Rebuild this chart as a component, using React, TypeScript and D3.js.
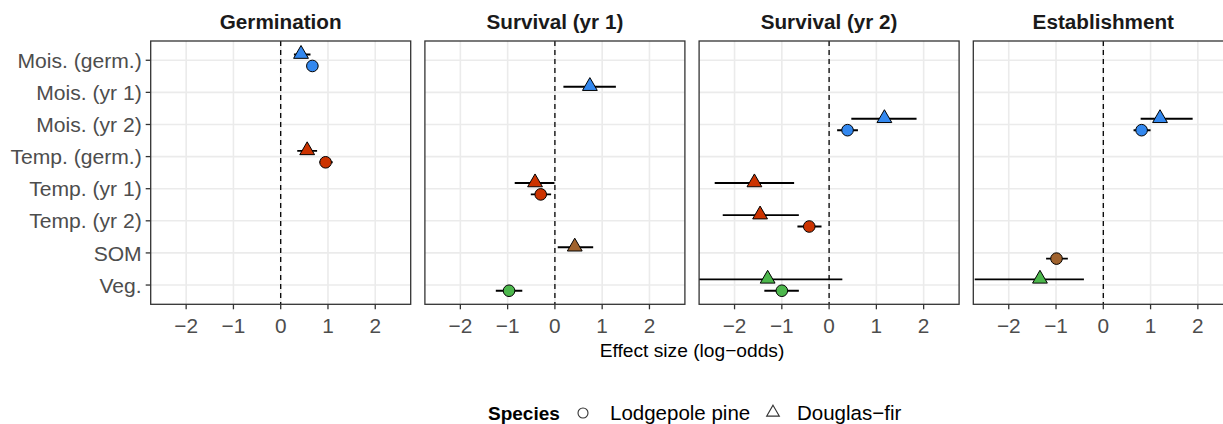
import React from "react";
import * as d3 from "d3";

const categories = [
  "Mois. (germ.)",
  "Mois. (yr 1)",
  "Mois. (yr 2)",
  "Temp. (germ.)",
  "Temp. (yr 1)",
  "Temp. (yr 2)",
  "SOM",
  "Veg.",
];
const panels = ["Germination", "Survival (yr 1)", "Survival (yr 2)", "Establishment"];
const xTicks = [-2, -1, 0, 1, 2];
const speciesLabels = ["Lodgepole pine", "Douglas\u2212fir"];
const axisTitle = "Effect size (log\u2212odds)";

// [panel, category, estimate, lower, upper]
const lodgepole: [string, string, number, number, number][] = [
  ["Germination", "Mois. (germ.)", 0.67, 0.6, 0.75],
  ["Germination", "Temp. (germ.)", 0.95, 0.82, 1.1],
  ["Survival (yr 1)", "Temp. (yr 1)", -0.3, -0.51, -0.08],
  ["Survival (yr 1)", "Veg.", -0.97, -1.25, -0.69],
  ["Survival (yr 2)", "Mois. (yr 2)", 0.39, 0.17, 0.61],
  ["Survival (yr 2)", "Temp. (yr 2)", -0.42, -0.67, -0.16],
  ["Survival (yr 2)", "Veg.", -1.0, -1.37, -0.64],
  ["Establishment", "Mois. (yr 2)", 0.81, 0.64, 1.0],
  ["Establishment", "SOM", -0.99, -1.21, -0.75],
];
const douglasFir: [string, string, number, number, number][] = [
  ["Germination", "Mois. (germ.)", 0.43, 0.28, 0.63],
  ["Germination", "Temp. (germ.)", 0.56, 0.35, 0.77],
  ["Survival (yr 1)", "Mois. (yr 1)", 0.74, 0.18, 1.29],
  ["Survival (yr 1)", "Temp. (yr 1)", -0.42, -0.85, -0.01],
  ["Survival (yr 1)", "SOM", 0.42, 0.06, 0.81],
  ["Survival (yr 2)", "Mois. (yr 2)", 1.17, 0.47, 1.85],
  ["Survival (yr 2)", "Temp. (yr 1)", -1.58, -2.42, -0.74],
  ["Survival (yr 2)", "Temp. (yr 2)", -1.46, -2.25, -0.64],
  ["Survival (yr 2)", "Veg.", -1.3, -3.2, 0.28],
  ["Establishment", "Mois. (yr 2)", 1.2, 0.79, 1.89],
  ["Establishment", "Veg.", -1.34, -2.72, -0.41],
];

const groupColor = (cat: string) =>
  cat.startsWith("Mois") ? "#3388ef" : cat.startsWith("Temp") ? "#cc3300" : cat === "SOM" ? "#a0622d" : "#4cb74c";

const W = 1223;
const H = 424;
const panelLeft = 150.7;
const panelW = 260;
const panelStep = 274.2;
const panelTop = 41;
const panelBottom = 304.3;
const FONT = "'Liberation Sans', Arial, Helvetica, sans-serif";

export default function App() {
  const x = d3.scaleLinear().domain([-2.75, 2.75]).range([0, panelW]);
  const y = d3
    .scalePoint<string>()
    .domain(categories)
    .range([panelTop, panelBottom])
    .padding(0.6);
  const dodge = 5.7;

  const tri = d3.symbol().type(d3.symbolTriangle).size(95);
  const triLegend = d3.symbol().type(d3.symbolTriangle).size(70);

  return (
    <svg
      width={W}
      height={H}
      style={{ position: "absolute", left: 0, top: 0, fontFamily: FONT }}
    >
      <rect width={W} height={H} fill="#fff" />
      {categories.map((c) => (
        <g key={c}>
          <line x1={panelLeft - 5} x2={panelLeft} y1={y(c)} y2={y(c)} stroke="#333" strokeWidth={1.3} />
          <text
            x={panelLeft - 9}
            y={y(c)}
            dy="0.36em"
            textAnchor="end"
            fontSize={21.1}
            fill="#4d4d4d"
          >
            {c}
          </text>
        </g>
      ))}
      {panels.map((p, i) => {
        const ox = panelLeft + i * panelStep;
        const clipId = `clip${i}`;
        const pine = lodgepole.filter((d) => d[0] === p);
        const fir = douglasFir.filter((d) => d[0] === p);
        return (
          <g key={p} transform={`translate(${ox},0)`}>
            <defs>
              <clipPath id={clipId}>
                <rect x={0} y={panelTop} width={panelW} height={panelBottom - panelTop} />
              </clipPath>
            </defs>
            <text
              x={panelW / 2}
              y={29}
              textAnchor="middle"
              fontSize={20.7}
              fontWeight="bold"
              fill="#1a1a1a"
            >
              {p}
            </text>
            <g clipPath={`url(#${clipId})`}>
              {xTicks.map((t) => (
                <line key={t} x1={x(t)} x2={x(t)} y1={panelTop} y2={panelBottom} stroke="#ebebeb" strokeWidth={1.6} />
              ))}
              {categories.map((c) => (
                <line key={c} x1={0} x2={panelW} y1={y(c)} y2={y(c)} stroke="#ebebeb" strokeWidth={1.6} />
              ))}
              <line
                x1={x(0)}
                x2={x(0)}
                y1={panelTop}
                y2={panelBottom}
                stroke="#000"
                strokeWidth={1.3}
                strokeDasharray="5,4"
              />
              {fir.map((d) => {
                const cy = (y(d[1]) as number) - dodge;
                return (
                  <g key={"f" + d[1]}>
                    <line x1={x(d[3])} x2={x(d[4])} y1={cy} y2={cy} stroke="#000" strokeWidth={1.9} />
                    <path
                      d={tri() as string}
                      transform={`translate(${x(d[2])},${cy - 0.5})`}
                      fill={groupColor(d[1])}
                      stroke="#000"
                      strokeWidth={1}
                    />
                  </g>
                );
              })}
              {pine.map((d) => {
                const cy = (y(d[1]) as number) + dodge;
                return (
                  <g key={"p" + d[1]}>
                    <line x1={x(d[3])} x2={x(d[4])} y1={cy} y2={cy} stroke="#000" strokeWidth={1.9} />
                    <circle cx={x(d[2])} cy={cy} r={5.8} fill={groupColor(d[1])} stroke="#000" strokeWidth={1} />
                  </g>
                );
              })}
            </g>
            <rect
              x={0}
              y={panelTop}
              width={panelW}
              height={panelBottom - panelTop}
              fill="none"
              stroke="#333"
              strokeWidth={1.3}
            />
            {xTicks.map((t) => (
              <g key={t}>
                <line x1={x(t)} x2={x(t)} y1={panelBottom} y2={panelBottom + 5} stroke="#333" strokeWidth={1.3} />
                <text x={x(t)} y={333} textAnchor="middle" fontSize={20.8} fill="#4d4d4d">
                  {t < 0 ? "\u2212" + Math.abs(t) : String(t)}
                </text>
              </g>
            ))}
          </g>
        );
      })}
      <text
        x={panelLeft + (panelStep * 3 + panelW) / 2}
        y={357}
        textAnchor="middle"
        fontSize={19.2}
        fill="#000"
      >
        {axisTitle}
      </text>
      <g>
        <text x={488} y={420} fontSize={19} fontWeight="bold" fill="#000">
          Species
        </text>
        <circle cx={583} cy={413} r={5} fill="none" stroke="#333" strokeWidth={1.1} />
        <text x={610} y={420} fontSize={20.5} fill="#000">
          {speciesLabels[0]}
        </text>
        <path
          d={triLegend() as string}
          transform="translate(773,412.5)"
          fill="none"
          stroke="#333"
          strokeWidth={1.1}
        />
        <text x={797} y={420} fontSize={20.5} fill="#000">
          {speciesLabels[1]}
        </text>
      </g>
    </svg>
  );
}
